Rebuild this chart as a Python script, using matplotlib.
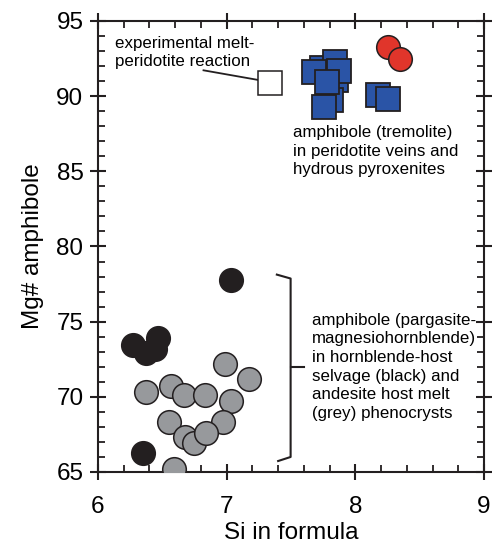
import matplotlib
matplotlib.use("Agg")
import matplotlib.pyplot as plt
from matplotlib.ticker import MultipleLocator

plt.rcParams['font.family'] = ['Liberation Sans', 'DejaVu Sans']

# Data (Si in formula, Mg#)
grey_si = [6.99, 7.17, 6.37, 6.57, 6.67, 6.83, 7.03, 6.55, 6.97, 6.68, 6.75, 6.84, 6.59]
grey_mg = [72.2, 71.2, 70.3, 70.7, 70.1, 70.1, 69.7, 68.3, 68.3, 67.3, 66.9, 67.6, 65.2]

black_si = [6.27, 6.47, 6.37, 6.44, 6.35, 7.03]
black_mg = [73.45, 73.9, 72.9, 73.15, 66.25, 77.8]

blue_si = [7.74, 7.85, 7.81, 7.84, 7.68, 7.87, 7.78, 7.76, 8.18, 8.25]
blue_mg = [91.9, 91.05, 89.75, 92.3, 91.6, 91.7, 90.95, 89.3, 90.1, 89.8]

red_si = [8.25, 8.35]
red_mg = [93.3, 92.45]

exp_si = [7.34]
exp_mg = [90.9]

fig = plt.figure(figsize=(4.93, 5.46), dpi=100)
ax = fig.add_axes([98/493, 1-472/546, (484-98)/493, (472-21)/546])

ec = '#231f20'
ax.plot(grey_si, grey_mg, 'o', ms=17, mfc='#97999c', mec=ec, mew=1.1, ls='none', zorder=3)
ax.plot(black_si, black_mg, 'o', ms=17, mfc='#231f20', mec=ec, mew=1.1, ls='none', zorder=3)
ax.plot(blue_si, blue_mg, 's', ms=17.5, mfc='#2a54a6', mec=ec, mew=1.3, ls='none', zorder=3)
ax.plot(red_si, red_mg, 'o', ms=17, mfc='#e0352b', mec=ec, mew=1.1, ls='none', zorder=3)
ax.plot(exp_si, exp_mg, 's', ms=17.5, mfc='white', mec=ec, mew=1.1, ls='none', zorder=3)

ax.set_xlim(6, 9)
ax.set_ylim(65, 95)
ax.xaxis.set_major_locator(MultipleLocator(1))
ax.xaxis.set_minor_locator(MultipleLocator(0.2))
ax.yaxis.set_major_locator(MultipleLocator(5))
ax.yaxis.set_minor_locator(MultipleLocator(1))

for s in ax.spines.values():
    s.set_linewidth(1.5)
    s.set_color(ec)
ax.tick_params(which='major', direction='inout', length=11, width=1.5, color=ec,
               top=True, right=True, labelsize=17.5)
ax.tick_params(axis='x', which='major', pad=12)
ax.tick_params(axis='y', which='major', pad=5)
ax.tick_params(which='minor', direction='in', length=5, width=1.3, color=ec,
               top=True, right=True)

ax.set_xlabel('Si in formula', fontsize=17.5, labelpad=3)
ax.set_ylabel('Mg# amphibole', fontsize=17.5, labelpad=9)

# annotations
ax.plot([6.82, 7.33], [91.72, 90.95], color=ec, lw=1.3, zorder=2)
ax.text(6.13, 92.9, 'experimental melt-\nperidotite reaction', fontsize=12.2,
        ha='left', va='center', linespacing=1.3)
ax.text(7.515, 86.35, 'amphibole (tremolite)\nin peridotite veins and\nhydrous pyroxenites',
        fontsize=12.2, ha='left', va='center', linespacing=1.3)

# bracket
ax.plot([7.39, 7.497, 7.497, 7.40], [78.13, 77.87, 66.0, 65.73], color=ec, lw=1.5, zorder=2)
ax.plot([7.497, 7.60], [72.0, 72.0], color=ec, lw=1.5, zorder=2)
ax.text(7.66, 72.0, 'amphibole (pargasite-\nmagnesiohornblende)\nin hornblende-host\n'
        'selvage (black) and\nandesite host melt\n(grey) phenocrysts',
        fontsize=12.2, ha='left', va='center', linespacing=1.3)

fig.savefig('out.png', dpi=100)
